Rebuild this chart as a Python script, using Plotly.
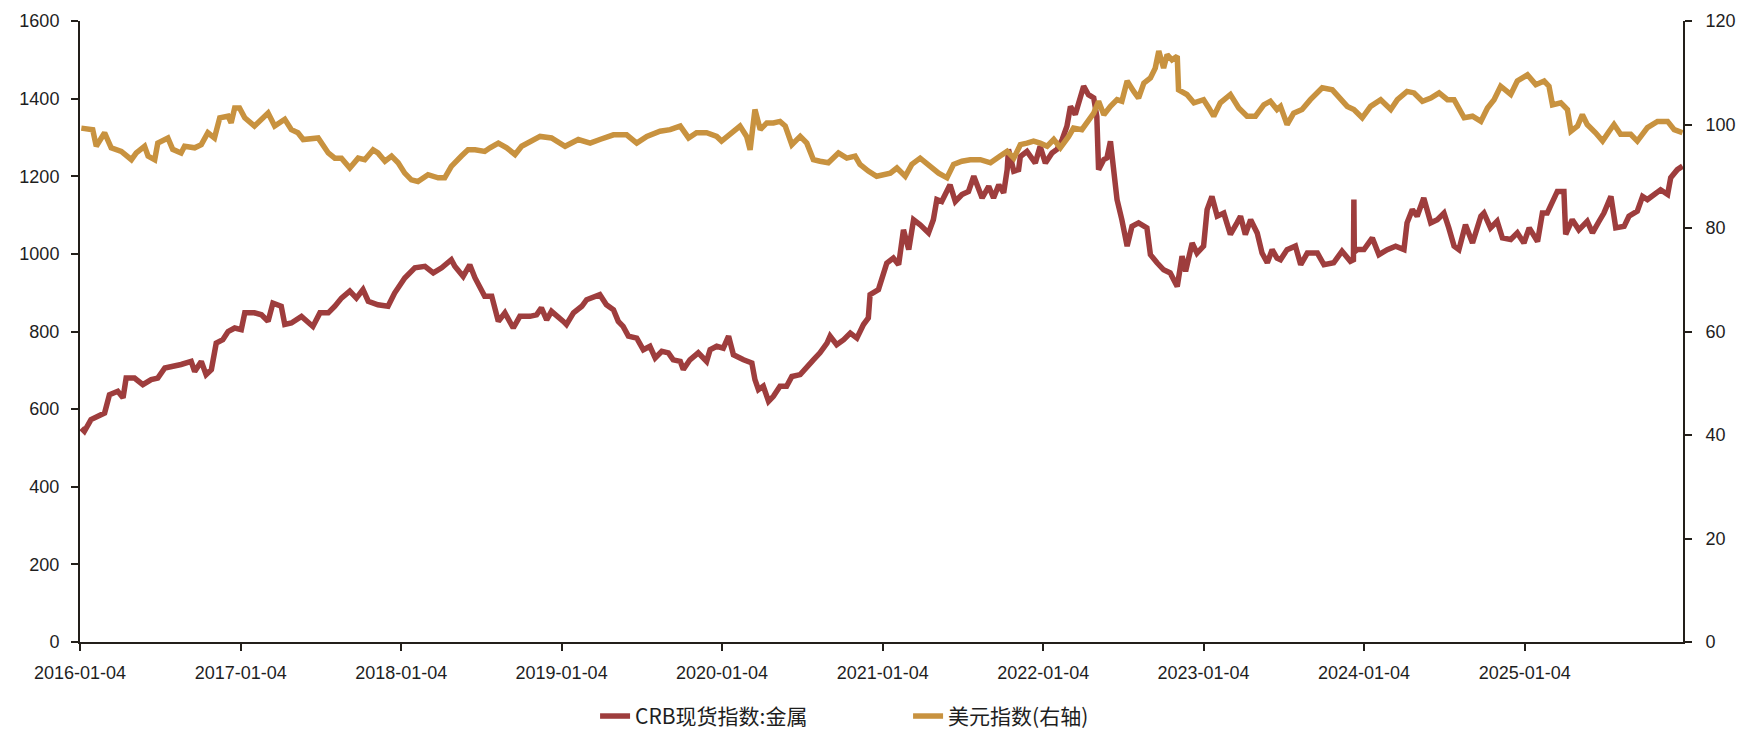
import pandas as pd
import plotly.graph_objects as go

# ---- data ----
base_date = "2016-01-04"

# CRB spot index: metals  (days since 2016-01-04, value)
crb_days = [
    3, 10, 25, 41, 56, 67, 86, 98, 105, 124, 143, 162, 177, 193, 215, 230, 253, 261, 276, 287,
    299, 310, 325, 337, 352, 367, 375, 397, 413, 428, 439, 458, 466, 481, 504, 519, 530, 546, 565, 580,
    595, 614, 629, 644, 656, 678, 701, 716, 739, 762, 785, 804, 823, 845, 853, 872, 887, 899, 918,
    921, 937, 952, 967, 986, 1001, 1024, 1039, 1050, 1062, 1073, 1100, 1107, 1123, 1142, 1153, 1172, 1183, 1198, 1214,
    1225, 1236, 1248, 1267, 1282, 1297, 1309, 1324, 1339, 1350, 1366, 1373, 1388, 1407, 1426, 1434, 1449, 1464, 1476, 1487,
    1510, 1529, 1536, 1544, 1555, 1567, 1578, 1593, 1608, 1620, 1639, 1654, 1669, 1684, 1700, 1707, 1722, 1738, 1753, 1768,
    1783, 1794, 1798, 1817,
    1836, 1851, 1863, 1874, 1886, 1897, 1912, 1931, 1942, 1950, 1961, 1980, 1992, 2007, 2022, 2034, 2053, 2068, 2079, 2091,
    2102, 2110, 2113, 2125, 2136, 2140, 2155, 2174, 2185, 2197, 2212, 2223, 2235, 2246, 2254, 2265, 2276, 2284, 2295, 2307,
    2314, 2318, 2330, 2337, 2345, 2352, 2360, 2371, 2383, 2394, 2409, 2428, 2436, 2451, 2466, 2481, 2497, 2508, 2516, 2531,
    2542, 2557, 2565, 2576, 2588, 2603, 2618, 2633, 2641, 2652, 2664, 2679, 2690, 2702, 2713, 2724,
    2732, 2747, 2766, 2778, 2793, 2816, 2831, 2853, 2872, 2891, 2898, 2899, 2900, 2907, 2922, 2941, 2956, 2975, 2994, 3013,
    3020, 3032, 3043, 3058, 3074, 3089, 3104, 3115, 3127, 3138, 3153, 3169, 3188, 3195, 3210, 3225, 3237, 3256, 3271, 3286,
    3298, 3317, 3328, 3339, 3351, 3362, 3377, 3381, 3396, 3411, 3430, 3442, 3457, 3468, 3484, 3495, 3514, 3525, 3544, 3556,
    3567, 3582, 3597, 3613, 3620, 3635, 3647,
]
crb_values = [
    551, 543, 573, 581, 590, 637, 646, 629, 680, 680, 663, 676, 680, 706, 710, 715, 723, 697, 723, 689,
    702, 770, 779, 800, 809, 805, 848, 848, 843, 826, 873, 865, 818, 822, 839, 826, 813, 848, 848, 865,
    886, 904, 886, 908, 878, 869, 865, 899, 938, 964, 968, 951, 964, 985, 968, 942, 972, 938, 899,
    891, 891, 826, 848, 809, 839, 839, 843, 861, 830, 852, 826, 818, 848, 865, 882, 891, 895, 869, 856,
    826, 813, 788, 783, 753, 762, 732, 749, 745, 727, 723, 702, 727, 745, 723, 753, 762, 757, 788, 740,
    727, 719, 676, 650, 659, 620, 633, 659, 659, 684, 689, 710, 727, 745, 770, 788, 766, 779, 796, 783,
    818, 835, 895, 908,
    976, 989, 972, 1062, 1011, 1088, 1075, 1054, 1088, 1140, 1135, 1178, 1135, 1153, 1161, 1200, 1144, 1174, 1144, 1178,
    1157, 1217, 1269, 1213, 1217, 1251, 1264, 1234, 1277, 1234, 1260, 1269, 1294, 1329, 1380, 1359, 1397, 1432, 1410, 1402,
    1354, 1217, 1243, 1247, 1290, 1217, 1140, 1088, 1020, 1071, 1080, 1067, 998, 977, 959, 951, 916, 994, 955, 1028,
    1002, 1020, 1114, 1148, 1097, 1105, 1050, 1080, 1097, 1050, 1088, 1054, 1002, 977, 1011, 989,
    985, 1011, 1020, 972, 1002, 1002, 972, 977, 1007, 981, 985, 1140, 1005, 1011, 1011, 1041, 998, 1011, 1020, 1011,
    1080, 1114, 1097, 1144, 1080, 1088, 1105, 1067, 1020, 1011, 1075, 1028, 1097, 1105, 1067, 1084, 1041, 1037, 1054, 1028,
    1067, 1032, 1105, 1105, 1131, 1161, 1161, 1050, 1088, 1062, 1084, 1054, 1084, 1105, 1148, 1067, 1071, 1097, 1110, 1148,
    1140, 1153, 1165, 1153, 1196, 1217, 1226,
]

# US dollar index (right axis)
usd_days = [
    3, 29, 37, 56, 71, 94, 117, 128, 147, 155, 170, 177, 200, 211, 230, 238, 261, 276, 291, 306,
    318, 337, 344, 352, 363, 375, 397, 413, 428, 443, 466, 481, 496, 508, 527, 542, 565, 580, 595, 614,
    633, 648, 667, 678, 694, 709, 724, 739, 754, 769, 792, 815, 830, 845, 868, 883, 899, 921,
    933, 952, 971, 990, 1005, 1031, 1047, 1073, 1104, 1134, 1161, 1183, 1214, 1244, 1267, 1290, 1320, 1343, 1366, 1385,
    1403, 1426, 1449, 1460, 1479, 1502, 1517, 1525, 1536, 1548, 1563, 1578, 1593, 1605, 1620, 1639, 1654, 1669, 1684, 1703,
    1726, 1745, 1764, 1775, 1794, 1813,
    1844, 1859, 1878, 1893, 1912, 1935, 1954, 1973, 1988, 2007, 2026, 2049, 2072, 2094, 2110, 2125, 2140, 2155, 2170, 2185,
    2201, 2216, 2231, 2250, 2261, 2280, 2292, 2307, 2318, 2330, 2345, 2360, 2371, 2383, 2398, 2409, 2421, 2436, 2447, 2455,
    2466, 2474, 2485, 2497, 2500, 2519, 2535, 2557, 2569, 2580, 2595, 2618, 2637, 2656, 2675, 2694, 2709, 2724,
    2732, 2747, 2762, 2781, 2800, 2827, 2850, 2869, 2884, 2899, 2918, 2937, 2960, 2983, 2998, 3020, 3036, 3055, 3074, 3093,
    3112, 3127, 3150, 3169, 3188, 3203, 3218, 3233, 3256, 3271, 3294, 3313, 3332, 3343, 3351, 3370, 3385, 3393, 3408, 3419,
    3430, 3449, 3465, 3480, 3491, 3506, 3529, 3544, 3567, 3590, 3613, 3628, 3647,
]
usd_values = [
    99.3, 99.0, 95.8, 98.4, 95.5, 94.8, 93.2, 94.5, 95.8, 93.9, 93.2, 96.4, 97.4, 95.2, 94.5, 95.8, 95.5, 96.1, 98.4, 97.4,
    101.3, 101.6, 100.3, 103.2, 103.2, 101.3, 99.7, 101.0, 102.2, 99.7, 101.0, 99.0, 98.4, 97.1, 97.4, 97.4, 94.5, 93.5, 93.5, 91.6,
    93.5, 93.2, 95.1, 94.5, 92.9, 93.9, 92.6, 90.6, 89.3, 89.0, 90.3, 89.7, 89.7, 91.9, 93.9, 95.1, 95.1, 94.8,
    95.5, 96.4, 95.5, 94.2, 95.8, 97.1, 97.7, 97.4, 95.8, 97.1, 96.4, 97.1, 98.0, 98.0, 96.4, 97.7, 98.7, 99.0, 99.7, 97.4,
    98.4, 98.4, 97.7, 96.8, 98.0, 99.7, 97.7, 95.1, 102.9, 99.0, 100.3, 100.3, 100.6, 99.7, 96.1, 97.7, 96.4, 93.2, 92.9, 92.6,
    94.5, 93.5, 93.9, 92.3, 91.0, 90.0,
    90.6, 91.6, 90.0, 92.3, 93.5, 91.9, 90.6, 89.7, 92.3, 92.9, 93.2, 93.2, 92.6, 93.9, 94.8, 93.5, 96.1, 96.4, 96.8, 96.4,
    95.8, 97.1, 95.5, 97.7, 99.3, 99.0, 100.3, 102.2, 104.5, 101.9, 103.5, 104.8, 104.5, 108.4, 106.4, 105.1, 108.0, 109.0, 110.9, 114.2,
    110.9, 113.5, 112.5, 113.2, 106.7, 105.8, 104.2, 104.8, 103.2, 101.6, 104.2, 105.8, 103.2, 101.6, 101.6, 103.8, 104.5, 102.9,
    103.5, 100.0, 102.2, 102.9, 104.8, 107.1, 106.7, 104.8, 103.5, 102.9, 101.3, 103.5, 104.8, 102.9, 104.8, 106.4, 106.1, 104.5, 105.1, 106.1,
    104.8, 104.8, 101.3, 101.6, 100.6, 103.2, 104.8, 107.4, 105.8, 108.4, 109.6, 107.7, 108.4, 107.4, 103.8, 104.2, 102.9, 98.7, 99.7, 101.9,
    100.0, 98.4, 96.8, 98.7, 100.0, 98.1, 98.1, 96.8, 99.4, 100.6, 100.6, 99.0, 98.4,
]

tick_dates = ["2016-01-04", "2017-01-04", "2018-01-04", "2019-01-04", "2020-01-04",
              "2021-01-04", "2022-01-04", "2023-01-04", "2024-01-04", "2025-01-04"]
series_names = ["CRB现货指数:金属", "美元指数(右轴)"]

# ---- build ----
start = pd.Timestamp(base_date)
crb_dates = start + pd.to_timedelta(crb_days, unit="D")
usd_dates = start + pd.to_timedelta(usd_days, unit="D")

RED = "#9E3D3D"
GOLD = "#C8923F"
AXIS = "#231f1a"
TXT = "#1e1e1e"

fig = go.Figure()
fig.add_trace(go.Scatter(x=crb_dates, y=crb_values, name=series_names[0], mode="lines",
                         line=dict(color=RED, width=5.5), yaxis="y"))
fig.add_trace(go.Scatter(x=usd_dates, y=usd_values, name=series_names[1], mode="lines",
                         line=dict(color=GOLD, width=5.5), yaxis="y2"))

tick_font = dict(family="Liberation Sans, Arial, sans-serif", size=18, color=TXT)

fig.update_layout(
    width=1742, height=731, autosize=False,
    paper_bgcolor="white", plot_bgcolor="white",
    margin=dict(l=80, r=59, t=21, b=89, autoexpand=False),
    showlegend=True,
    legend=dict(orientation="h", xref="container", yref="container",
                x=0.3416, xanchor="left", y=0.02, yanchor="middle",
                font=dict(family="Noto Sans CJK SC, sans-serif", size=21, color=TXT),
                entrywidth=268, itemwidth=30, bgcolor="rgba(0,0,0,0)"),
    xaxis=dict(
        type="date", automargin=False,
        range=[crb_dates[0] - pd.Timedelta(days=3), crb_dates[-1] + pd.Timedelta(days=1)],
        tickvals=pd.to_datetime(tick_dates), ticktext=tick_dates,
        showline=True, linecolor=AXIS, linewidth=2,
        ticks="outside", ticklen=7, tickwidth=2, tickcolor=AXIS,
        showgrid=False, zeroline=False, tickfont=tick_font, ticklabelstandoff=6,
    ),
    yaxis=dict(
        range=[0, 1600], tickvals=list(range(0, 1601, 200)), automargin=False,
        showline=True, linecolor=AXIS, linewidth=2,
        ticks="outside", ticklen=7, tickwidth=2, tickcolor=AXIS,
        showgrid=False, zeroline=False, tickfont=tick_font, ticklabelstandoff=8,
    ),
    yaxis2=dict(
        overlaying="y", side="right", automargin=False,
        range=[0, 120], tickvals=list(range(0, 121, 20)),
        showline=True, linecolor=AXIS, linewidth=2,
        ticks="outside", ticklen=7, tickwidth=2, tickcolor=AXIS,
        showgrid=False, zeroline=False, tickfont=tick_font, ticklabelstandoff=10,
    ),
)

fig.write_html("out.html", config={"displayModeBar": False},
               post_script="document.body.style.margin='0';")
